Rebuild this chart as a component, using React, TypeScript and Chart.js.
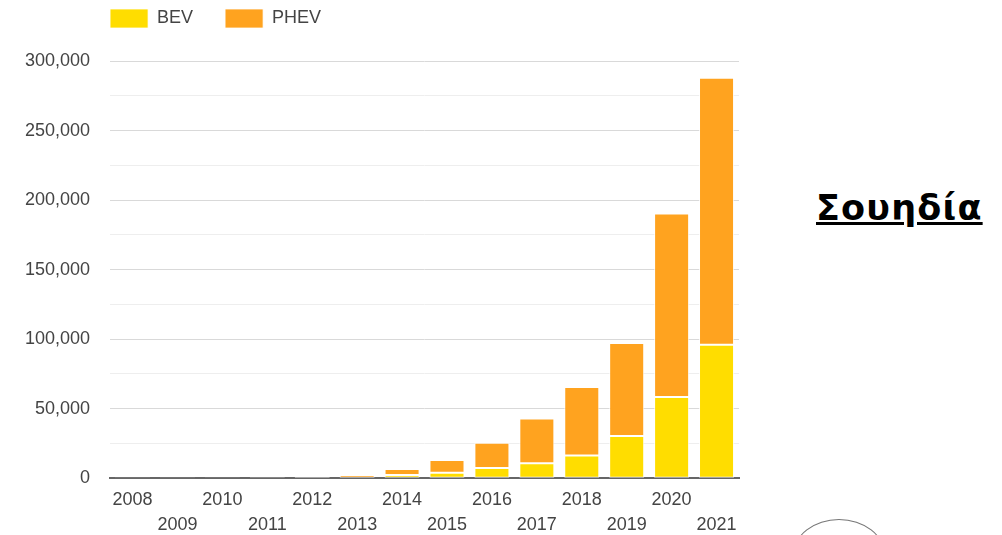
import React, { useEffect, useRef } from 'react';
import { Chart, registerables } from 'chart.js';

Chart.register(...registerables);

const years = ['2008', '2009', '2010', '2011', '2012', '2013', '2014', '2015', '2016', '2017', '2018', '2019', '2020', '2021'];
const bevValues = [50, 50, 100, 150, 300, 400, 2300, 4000, 7400, 10800, 16300, 30300, 58400, 95900];
const phevValues = [300, 300, 300, 350, 1100, 1900, 4400, 9100, 18100, 32200, 49300, 67000, 132000, 192000];
const seriesLabels = ['BEV', 'PHEV'];
const seriesColors = ['#FFDD00', '#FFA31F'];
const yMax = 300000;
const yStep = 25000;
const yLabelStep = 50000;
const countryTitle = 'Σουηδία';

const FONT = "'Liberation Sans', Arial, sans-serif";

export default function App() {
  const ref = useRef<HTMLCanvasElement>(null);

  useEffect(() => {
    if (!ref.current) return;
    const legendShift = {
      id: 'legendShift',
      beforeDraw(chart: any) {
        const lg = chart.legend;
        if (!lg) return;
        lg.left = chart.chartArea.left - 32;
        lg.top = 9 - 32;
      },
    };
    const chart = new Chart(ref.current, {
      type: 'bar',
      data: {
        labels: years,
        datasets: [
          {
            label: seriesLabels[0],
            data: bevValues,
            backgroundColor: seriesColors[0],
            borderColor: 'rgba(255,255,255,0.75)',
            borderWidth: 1,
            borderSkipped: false,
          },
          {
            label: seriesLabels[1],
            data: phevValues,
            backgroundColor: seriesColors[1],
            borderColor: 'rgba(255,255,255,0.75)',
            borderWidth: 1,
            borderSkipped: false,
          },
        ],
      },
      options: {
        animation: false,
        responsive: false,
        maintainAspectRatio: false,
        layout: { padding: { left: 5, right: 21, top: 0, bottom: -12 } },
        datasets: { bar: { barPercentage: 0.78, categoryPercentage: 1 } },
        plugins: {
          tooltip: { enabled: false },
          legend: {
            display: true,
            position: 'top',
            align: 'start',
            maxHeight: 61,
            labels: {
              boxWidth: 38,
              boxHeight: 19,
              padding: 32,
              color: '#444',
              font: { family: FONT, size: 18 },
            },
          },
        },
        scales: {
          x: {
            stacked: true,
            grid: { display: false, drawTicks: false },
            border: { display: true, color: '#666', width: 2 },
            ticks: {
              autoSkip: false,
              maxRotation: 0,
              minRotation: 0,
              padding: 9,
              color: '#444',
              font: { family: FONT, size: 18, lineHeight: 1.41 },
              callback: (_v: any, i: number) => (i % 2 === 0 ? [years[i]] : ['', years[i]]),
            },
          },
          y: {
            stacked: true,
            min: 0,
            max: yMax,
            border: { display: false },
            grid: {
              drawTicks: false,
              lineWidth: 1,
              color: (ctx: any) => {
                const v = ctx.tick ? ctx.tick.value : 1;
                if (v === 0) return '#666';
                return v % yLabelStep === 0 ? '#d9d9d9' : '#eeeeee';
              },
            },
            ticks: {
              stepSize: yStep,
              padding: 20,
              color: '#444',
              font: { family: FONT, size: 18 },
              callback: (v: any) => (Number(v) % yLabelStep === 0 ? Number(v).toLocaleString('en-US') : ''),
            },
          },
        },
      },
      plugins: [legendShift],
    });
    return () => chart.destroy();
  }, []);

  return (
    <div style={{ position: 'fixed', left: 0, top: 0, width: 1002, height: 535, overflow: 'hidden', background: '#fff' }}>
      <canvas ref={ref} width={760} height={535} style={{ position: 'absolute', left: 0, top: 0, width: 760, height: 535 }} />
      <div
        style={{
          position: 'absolute',
          left: 816,
          top: 188,
          fontFamily: "'DejaVu Sans', Verdana, sans-serif",
          fontWeight: 'bold',
          fontSize: 35,
          letterSpacing: '1.2px',
          lineHeight: '40px',
          textDecoration: 'underline',
          color: '#000',
          whiteSpace: 'nowrap',
        }}
      >
        {countryTitle}
      </div>
      <div
        style={{
          position: 'absolute',
          left: 793,
          top: 519,
          width: 90,
          height: 70,
          borderRadius: '50%',
          border: '1.5px solid #777',
        }}
      />
    </div>
  );
}
